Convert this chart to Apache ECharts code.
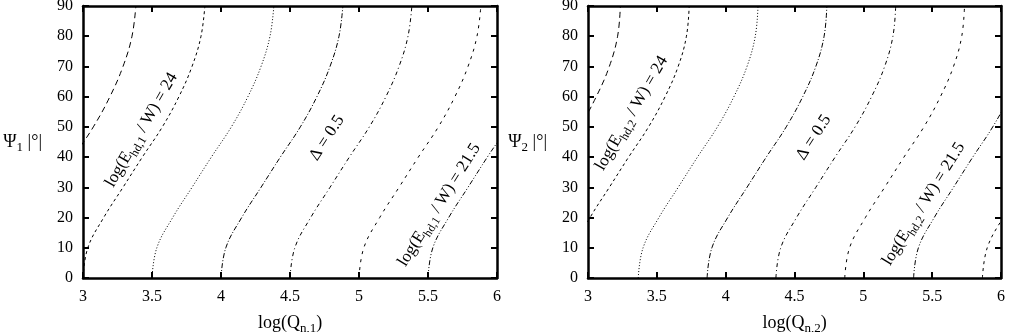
<!DOCTYPE html>
<html>
<head>
<meta charset="utf-8">
<script src="https://cdn.jsdelivr.net/npm/echarts@6/dist/echarts.min.js"></script>
<style>
html, body { margin: 0; padding: 0; background: #fff; }
#main { width: 1009px; height: 332px; }
</style>
</head>
<body>
<div id="main"></div>
<script>
var psiLevels = [0, 10, 20, 30, 40, 50, 60, 70, 80, 90];

// left panel: log(Q_n,1) along each contour log(E_hd,1 / W)
var left245 = [2.50, 2.535, 2.65, 2.79, 2.93, 3.075, 3.195, 3.29, 3.355, 3.383];
var left24  = [3.00, 3.035, 3.15, 3.29, 3.43, 3.575, 3.695, 3.79, 3.855, 3.883];
var left235 = [3.50, 3.535, 3.65, 3.79, 3.93, 4.075, 4.195, 4.29, 4.355, 4.383];
var left23  = [4.00, 4.035, 4.15, 4.29, 4.43, 4.575, 4.695, 4.79, 4.855, 4.883];
var left225 = [4.50, 4.535, 4.65, 4.79, 4.93, 5.075, 5.195, 5.29, 5.355, 5.383];
var left22  = [5.00, 5.035, 5.15, 5.29, 5.43, 5.575, 5.695, 5.79, 5.855, 5.883];
var left215 = [5.50, 5.535, 5.65, 5.79, 5.93, 6.075, 6.195, 6.29, 6.355, 6.383];

// right panel: log(Q_n,2) along each contour log(E_hd,2 / W)
var right245 = [2.365, 2.40, 2.515, 2.655, 2.795, 2.94, 3.06, 3.155, 3.215, 3.235];
var right24  = [2.865, 2.90, 3.015, 3.155, 3.295, 3.44, 3.56, 3.655, 3.715, 3.735];
var right235 = [3.365, 3.40, 3.515, 3.655, 3.795, 3.94, 4.06, 4.155, 4.215, 4.235];
var right23  = [3.865, 3.90, 4.015, 4.155, 4.295, 4.44, 4.56, 4.655, 4.715, 4.735];
var right225 = [4.365, 4.40, 4.515, 4.655, 4.795, 4.94, 5.06, 5.155, 5.215, 5.235];
var right22  = [4.865, 4.90, 5.015, 5.155, 5.295, 5.44, 5.56, 5.655, 5.715, 5.735];
var right215 = [5.365, 5.40, 5.515, 5.655, 5.795, 5.94, 6.06, 6.155, 6.215, 6.235];
var right21  = [5.865, 5.90, 6.015, 6.155, 6.295, 6.44, 6.56, 6.655, 6.715, 6.735];

var xTicks = [3, 3.5, 4, 4.5, 5, 5.5, 6];
var yTicks = [0, 10, 20, 30, 40, 50, 60, 70, 80, 90];

var FONT = "'Liberation Serif', 'Times New Roman', serif";

// dash patterns, one per contour from left to right
var dashes = [
	[6, 4],
	[3, 3],
	[1, 2],
	[5, 2, 1, 2],
	[4, 3, 1, 3],
	[3, 5],
	[5, 2, 1, 2, 1, 2],
	[3, 4]
];

// axis titles
var nameRich = {
	a: { fontFamily: FONT, fontSize: 18, color: '#000', lineHeight: 24 },
	s: { fontFamily: FONT, fontSize: 13, color: '#000', lineHeight: 12, verticalAlign: 'bottom' }
};
// contour labels
var labelRich = {
	a: { fontFamily: FONT, fontSize: 17, color: '#000', lineHeight: 24 },
	s: { fontFamily: FONT, fontSize: 12, color: '#000', lineHeight: 12, verticalAlign: 'bottom' }
};

function pairs(xs){
	var out = [];
	for(var i = 0; i < xs.length; i++){
		out.push([xs[i], psiLevels[i]]);
	}
	return out;
}

function contour(xs, idx, k){
	return {
		type: 'line',
		xAxisIndex: idx * 2,
		yAxisIndex: idx * 2,
		data: pairs(xs),
		smooth: 0.4,
		showSymbol: false,
		silent: true,
		clip: true,
		lineStyle: { color: '#000', width: 1, type: dashes[k] },
		animation: false
	};
}

var border = { color: '#000', width: 2.5 };
var tick = { inside: true, length: 6, lineStyle: { color: '#000', width: 2 } };

function xAxes(idx, sub){
	var base = {
		type: 'value', gridIndex: idx, min: 3, max: 6, interval: 0.5,
		splitLine: { show: false },
		axisLine: { onZero: false, lineStyle: border },
		axisTick: tick
	};
	var bottom = Object.assign({}, base, {
		position: 'bottom',
		name: '{a|log(Q}{s|n,' + sub + '}{a|)}',
		nameLocation: 'middle',
		nameGap: 33,
		nameTextStyle: { rich: nameRich },
		axisLabel: { margin: 11, color: '#000', fontFamily: FONT, fontSize: 16 }
	});
	var top = Object.assign({}, base, {
		position: 'top',
		axisLabel: { show: false }
	});
	return [bottom, top];
}

function yAxes(idx, sub){
	var base = {
		type: 'value', gridIndex: idx, min: 0, max: 90, interval: 10,
		splitLine: { show: false },
		axisLine: { onZero: false, lineStyle: border },
		axisTick: tick
	};
	var left = Object.assign({}, base, {
		position: 'left',
		name: '{a|\u03A8}{s|' + sub + '}{a| |\u00B0|}',
		nameLocation: 'middle',
		nameRotate: 0,
		nameGap: 41,
		nameTextStyle: { rich: nameRich, align: 'right' },
		axisLabel: { margin: 10, color: '#000', fontFamily: FONT, fontSize: 16 }
	});
	var right = Object.assign({}, base, {
		position: 'right',
		axisLabel: { show: false }
	});
	return [left, right];
}

var chart = echarts.init(document.getElementById('main'), null, { renderer: 'canvas' });

var lx = xAxes(0, 1), rx = xAxes(1, 2);
var ly = yAxes(0, 1), ry = yAxes(1, 2);

var leftSets = [left245, left24, left235, left23, left225, left22, left215];
var rightSets = [right245, right24, right235, right23, right225, right22, right215, right21];
var series = [];
for(var i = 0; i < leftSets.length; i++){
	series.push(contour(leftSets[i], 0, i));
}
for(var j = 0; j < rightSets.length; j++){
	series.push(contour(rightSets[j], 1, j));
}

var option = {
	backgroundColor: '#fff',
	animation: false,
	grid: [
		{ left: 83, top: 6, width: 414, height: 272, outerBoundsMode: 'none' },
		{ left: 588, top: 6, width: 413, height: 272, outerBoundsMode: 'none' }
	],
	xAxis: [lx[0], lx[1], rx[0], rx[1]],
	yAxis: [ly[0], ly[1], ry[0], ry[1]],
	series: series
};
chart.setOption(option);

// rotated contour labels, anchored in data coordinates
var labelTexts = [
	'{a|log(E}{s|hd,1}{a| / W) = 24}',
	'{a|\u0394 = 0.5}',
	'{a|log(E}{s|hd,1}{a| / W) = 21.5}',
	'{a|log(E}{s|hd,2}{a| / W) = 24}',
	'{a|\u0394 = 0.5}',
	'{a|log(E}{s|hd,2}{a| / W) = 21.5}'
];
var labelGrid = [0, 0, 0, 1, 1, 1];
var labelAt = [[3.424, 49], [4.768, 46.3], [5.581, 24.2], [3.317, 54.5], [4.64, 46.5], [5.438, 24.5]];
var labelAngle = [60, 57, 58, 60, 57, 58];

var graphics = [];
for(var k = 0; k < labelTexts.length; k++){
	var p = chart.convertToPixel({ xAxisIndex: labelGrid[k] * 2, yAxisIndex: labelGrid[k] * 2 }, labelAt[k]);
	graphics.push({
		type: 'text',
		x: p[0],
		y: p[1],
		rotation: labelAngle[k] * Math.PI / 180,
		silent: true,
		style: {
			text: labelTexts[k],
			rich: labelRich,
			align: 'center',
			verticalAlign: 'middle'
		}
	});
}
chart.setOption({ graphic: graphics });
</script>
</body>
</html>
